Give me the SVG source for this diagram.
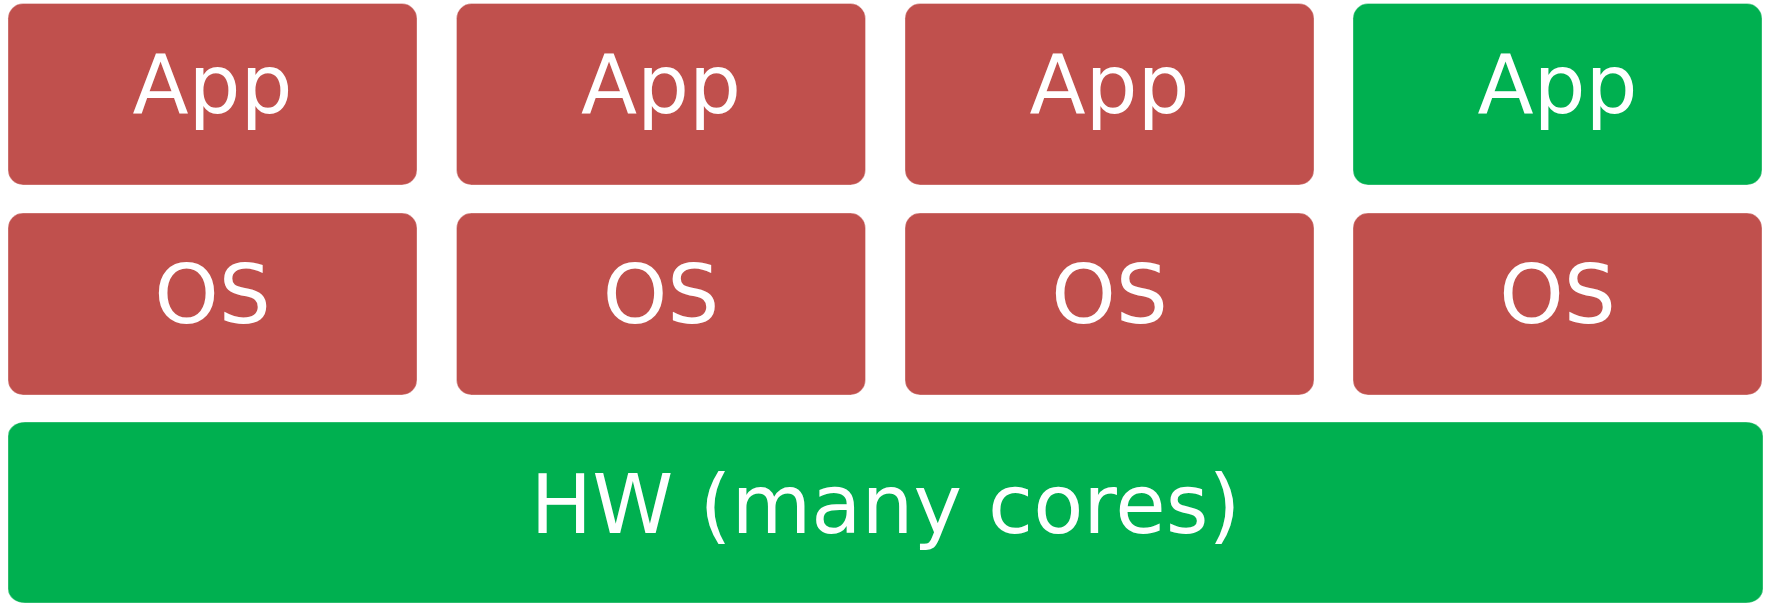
<svg xmlns="http://www.w3.org/2000/svg" width="1769" height="603" viewBox="0 0 1769 603">
  <style>
    .red { fill: #C0504D; stroke: #ffffff; stroke-opacity: 0.35; stroke-width: 1; }
    .green { fill: #00B050; stroke: #ffffff; stroke-opacity: 0.35; stroke-width: 1; }
    .lbl { font-family: "DejaVu Sans", "Liberation Sans", sans-serif; font-size: 82px; fill: #ffffff; text-anchor: middle; }
  </style>
  <rect width="1769" height="603" fill="#ffffff"/>
  <g id="app1"><rect class="red" x="8" y="3.5" width="409" height="181.5" rx="15"/><text class="lbl" x="212.5" y="113">App</text></g>
  <g id="app2"><rect class="red" x="456.5" y="3.5" width="409" height="181.5" rx="15"/><text class="lbl" x="661" y="113">App</text></g>
  <g id="app3"><rect class="red" x="905" y="3.5" width="409" height="181.5" rx="15"/><text class="lbl" x="1109.5" y="113">App</text></g>
  <g id="app4"><rect class="green" x="1353" y="3.5" width="409" height="181.5" rx="15"/><text class="lbl" x="1557.5" y="113">App</text></g>
  <g id="os1"><rect class="red" x="8" y="213" width="409" height="182" rx="15"/><text class="lbl" x="212.5" y="323">OS</text></g>
  <g id="os2"><rect class="red" x="456.5" y="213" width="409" height="182" rx="15"/><text class="lbl" x="661" y="323">OS</text></g>
  <g id="os3"><rect class="red" x="905" y="213" width="409" height="182" rx="15"/><text class="lbl" x="1109.5" y="323">OS</text></g>
  <g id="os4"><rect class="red" x="1353" y="213" width="409" height="182" rx="15"/><text class="lbl" x="1557.5" y="323">OS</text></g>
  <g id="hw"><rect class="green" x="8" y="422" width="1755" height="181" rx="17" ry="14"/><text class="lbl" x="885.5" y="533">HW (many cores)</text></g>
  <g id="connectors"></g>
</svg>
